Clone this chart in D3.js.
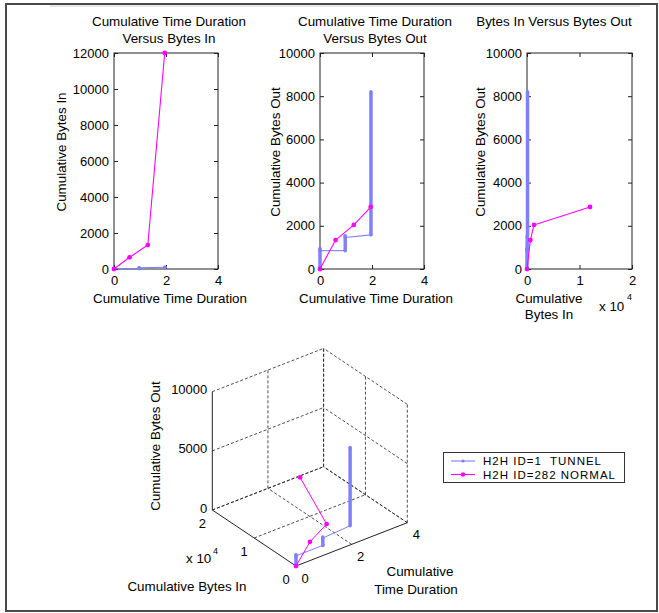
<!DOCTYPE html>
<html>
<head>
<meta charset="utf-8">
<script src="https://cdn.jsdelivr.net/npm/d3@7"></script>
<style>
  body { margin: 0; background: #fff; }
  svg { font-family: 'Liberation Sans', Arial, sans-serif; }
</style>
</head>
<body>
<div id="chart"></div>
<script>
// Data
const seriesNames = ['H2H ID=1  TUNNEL', 'H2H ID=282 NORMAL'];
const seriesColors = ['#8080ff', '#ff00ff'];

// H2H ID=1 TUNNEL
const tunnelTime = [0, 0, 0, 0.97, 0.97, 0.97, 1.96, 1.96];
const tunnelBytesIn = [0, 0, 20, 20, 60, 60, 100, 100];
const tunnelBytesOut = [0, 950, 850, 850, 1540, 1460, 1580, 8200];

// H2H ID=282 NORMAL
const normalTime = [0, 0.6, 1.3, 1.95];
const normalBytesIn = [0, 650, 1330, 12000];
const normalBytesOut = [0, 1340, 2040, 2870];

// Tick values
const timeTicks = [0, 2, 4];
const bytesInTicks2d = [0, 2000, 4000, 6000, 8000, 10000, 12000];
const bytesOutTicks2d = [0, 2000, 4000, 6000, 8000, 10000];
const bytesInTicksE4 = [0, 10000, 20000];
const bytesOutTicks3d = [0, 5000, 10000];

const tunnel = tunnelTime.map((t, i) => ({ t: t, bin: tunnelBytesIn[i], bout: tunnelBytesOut[i] }));
const normal = normalTime.map((t, i) => ({ t: t, bin: normalBytesIn[i], bout: normalBytesOut[i] }));
const series = [tunnel, normal];

const labelSize = '13.4px';
const tickSize = 13;

const svg = d3
  .select('#chart')
  .append('svg')
  .attr('width', 659)
  .attr('height', 613);

// Outer frame
svg.append('rect')
  .attr('x', 6).attr('y', 4)
  .attr('width', 651).attr('height', 607)
  .attr('fill', '#fff')
  .attr('stroke', '#4a4a4a')
  .attr('stroke-width', 2);
svg.append('line')
  .attr('x1', 50).attr('x2', 640).attr('y1', 6).attr('y2', 6)
  .attr('stroke', '#d0d0d0').attr('stroke-width', 1);

// Draw a line series; dense vertical runs of the tunnel series look thick
function drawSeries(g, pts, color, fx, fy, thin, dot) {
  for (let i = 1; i < pts.length; i++) {
    const x1 = fx(pts[i - 1]), y1 = fy(pts[i - 1]);
    const x2 = fx(pts[i]), y2 = fy(pts[i]);
    const vertical = Math.abs(x2 - x1) < 2 && Math.abs(y2 - y1) > 3;
    g.append('line')
      .attr('x1', x1).attr('y1', y1).attr('x2', x2).attr('y2', y2)
      .attr('stroke', color)
      .attr('stroke-width', vertical && color === seriesColors[0] ? 3.5 : thin);
  }
  g.selectAll(null)
    .data(pts)
    .enter()
    .append('circle')
    .attr('cx', fx)
    .attr('cy', fy)
    .attr('r', dot)
    .attr('fill', color);
}

// 2D panels
function panel(cfg) {
  const x = d3.scaleLinear().domain(cfg.xDomain).range([cfg.left, cfg.right]);
  const y = d3.scaleLinear().domain(cfg.yDomain).range([269, 53]);
  const g = svg.append('g');

  g.append('rect')
    .attr('x', cfg.left).attr('y', 53)
    .attr('width', cfg.right - cfg.left).attr('height', 216)
    .attr('fill', '#fff')
    .attr('stroke', '#222')
    .attr('stroke-width', 1);

  const fmtX = cfg.xFormat || d3.format('d');

  const xAxis = g.append('g')
    .attr('transform', 'translate(0,269)')
    .call(d3.axisBottom(x).tickValues(cfg.xTicks).tickSizeInner(-4).tickSizeOuter(0).tickPadding(7).tickFormat(fmtX));
  const xTop = g.append('g')
    .attr('transform', 'translate(0,53)')
    .call(d3.axisTop(x).tickValues(cfg.xTicks).tickSizeInner(-4).tickSizeOuter(0).tickFormat(''));
  const yAxis = g.append('g')
    .attr('transform', 'translate(' + cfg.left + ',0)')
    .call(d3.axisLeft(y).tickValues(cfg.yTicks).tickSizeInner(-4).tickSizeOuter(0).tickPadding(5).tickFormat(d3.format('d')));
  const yRight = g.append('g')
    .attr('transform', 'translate(' + cfg.right + ',0)')
    .call(d3.axisRight(y).tickValues(cfg.yTicks).tickSizeInner(-4).tickSizeOuter(0).tickFormat(''));

  [xAxis, xTop, yAxis, yRight].forEach((a) => {
    a.select('.domain').remove();
    a.selectAll('line').attr('stroke', '#222');
    a.selectAll('text')
      .attr('font-size', tickSize)
      .attr('font-family', "'Liberation Sans', Arial, sans-serif")
      .attr('fill', '#000');
  });

  const plot = g.append('g');
  series.forEach((s, i) => {
    drawSeries(plot, s, seriesColors[i], (d) => x(d[cfg.xKey]), (d) => y(d[cfg.yKey]), 1.1, i === 0 ? 1.8 : 2.4);
  });

  // Titles and labels
  cfg.title.forEach((line, i) => {
    g.append('text')
      .attr('x', cfg.titleX)
      .attr('y', 26 + i * 17)
      .attr('text-anchor', 'middle')
      .style('font-size', labelSize)
      .text(line);
  });
  cfg.xLabel.forEach((line, i) => {
    g.append('text')
      .attr('x', cfg.xLabelX)
      .attr('y', 303 + i * 16)
      .attr('text-anchor', 'middle')
      .style('font-size', labelSize)
      .text(line);
  });
  g.append('text')
    .attr('transform', 'translate(' + cfg.yLabelX + ',152) rotate(-90)')
    .attr('text-anchor', 'middle')
    .attr('dominant-baseline', 'central')
    .style('font-size', labelSize)
    .text(cfg.yLabel);
}

panel({
  left: 114, right: 218,
  xDomain: [0, 4], yDomain: [0, 12000],
  xTicks: timeTicks, yTicks: bytesInTicks2d,
  xKey: 't', yKey: 'bin',
  title: ['Cumulative Time Duration', 'Versus Bytes In'], titleX: 169,
  xLabel: ['Cumulative Time Duration'], xLabelX: 170,
  yLabel: 'Cumulative Bytes In', yLabelX: 61,
});

panel({
  left: 320, right: 424,
  xDomain: [0, 4], yDomain: [0, 10000],
  xTicks: timeTicks, yTicks: bytesOutTicks2d,
  xKey: 't', yKey: 'bout',
  title: ['Cumulative Time Duration', 'Versus Bytes Out'], titleX: 375,
  xLabel: ['Cumulative Time Duration'], xLabelX: 376,
  yLabel: 'Cumulative Bytes Out', yLabelX: 275,
});

panel({
  left: 527, right: 632,
  xDomain: [0, 20000], yDomain: [0, 10000],
  xTicks: bytesInTicksE4, yTicks: bytesOutTicks2d,
  xFormat: (d) => d / 10000,
  xKey: 'bin', yKey: 'bout',
  title: ['Bytes In Versus Bytes Out'], titleX: 554,
  xLabel: ['Cumulative', 'Bytes In'], xLabelX: 549,
  yLabel: 'Cumulative Bytes Out', yLabelX: 480,
});

// exponent label for panel 3
svg.append('text').attr('x', 599).attr('y', 311).style('font-size', labelSize).text('x 10');
svg.append('text').attr('x', 627).attr('y', 300).style('font-size', '9px').text('4');

// 3D panel: oblique projection built from linear scales
const ox = 296, oy = 566;
const tX = d3.scaleLinear().domain([0, 4]).range([0, 111.3]);
const tY = d3.scaleLinear().domain([0, 4]).range([0, -43.3]);
const bX = d3.scaleLinear().domain([0, 20000]).range([0, -83.7]);
const bY = d3.scaleLinear().domain([0, 20000]).range([0, -56]);
const zY = d3.scaleLinear().domain([0, 10000]).range([0, -118.3]);
const px = (t, b, z) => ox + tX(t) + bX(b);
const py = (t, b, z) => oy + tY(t) + bY(b) + zY(z);

const g3 = svg.append('g');
const tMax = 4, bMax = 20000, zMax = 10000;

function seg3(t1, b1, z1, t2, b2, z2, dashed) {
  g3.append('line')
    .attr('x1', px(t1, b1, z1)).attr('y1', py(t1, b1, z1))
    .attr('x2', px(t2, b2, z2)).attr('y2', py(t2, b2, z2))
    .attr('stroke', '#222')
    .attr('stroke-width', dashed ? 0.8 : 1)
    .attr('stroke-dasharray', dashed ? '3,2' : null);
}

// back-left wall (b = max)
timeTicks.forEach((t) => { if (t > 0) seg3(t, bMax, 0, t, bMax, zMax, true); });
bytesOutTicks3d.forEach((z) => seg3(0, bMax, z, tMax, bMax, z, true));
// back-right wall (t = max)
bytesInTicksE4.forEach((b) => seg3(tMax, b, 0, tMax, b, zMax, true));
bytesOutTicks3d.forEach((z) => seg3(tMax, 0, z, tMax, bMax, z, true));
// floor
timeTicks.forEach((t) => { if (t > 0) seg3(t, 0, 0, t, bMax, 0, true); });
bytesInTicksE4.forEach((b) => { if (b > 0) seg3(0, b, 0, tMax, b, 0, true); });
// solid axes
seg3(0, bMax, 0, 0, bMax, zMax, false);
seg3(0, 0, 0, 0, bMax, 0, false);
seg3(0, 0, 0, tMax, 0, 0, false);

// tick labels
bytesOutTicks3d.forEach((z) => {
  g3.append('text')
    .attr('x', px(0, bMax, z) - 5).attr('y', py(0, bMax, z) - 2)
    .attr('text-anchor', 'end').attr('dominant-baseline', 'central')
    .style('font-size', tickSize + 'px').text(z);
});
bytesInTicksE4.forEach((b) => {
  g3.append('text')
    .attr('x', px(0, b, 0) - 10).attr('y', py(0, b, 0) + 13)
    .attr('text-anchor', 'middle').attr('dominant-baseline', 'central')
    .style('font-size', tickSize + 'px').text(b / 10000);
});
timeTicks.forEach((t) => {
  g3.append('text')
    .attr('x', px(t, 0, 0) + 9).attr('y', py(t, 0, 0) + 12)
    .attr('text-anchor', 'middle').attr('dominant-baseline', 'central')
    .style('font-size', tickSize + 'px').text(t);
});

// data in 3D
series.forEach((s, i) => {
  drawSeries(g3, s, seriesColors[i], (d) => px(d.t, d.bin, d.bout), (d) => py(d.t, d.bin, d.bout), 1, i === 0 ? 1.8 : 2.4);
});

// 3D labels
g3.append('text').attr('x', 186).attr('y', 563).style('font-size', labelSize).text('x 10');
g3.append('text').attr('x', 213).attr('y', 554).style('font-size', '9px').text('4');
g3.append('text').attr('x', 187).attr('y', 591).attr('text-anchor', 'middle')
  .style('font-size', labelSize).text('Cumulative Bytes In');
g3.append('text').attr('x', 420).attr('y', 576).attr('text-anchor', 'middle')
  .style('font-size', labelSize).text('Cumulative');
g3.append('text').attr('x', 416).attr('y', 594).attr('text-anchor', 'middle')
  .style('font-size', labelSize).text('Time Duration');
g3.append('text')
  .attr('transform', 'translate(155,446) rotate(-90)')
  .attr('text-anchor', 'middle').attr('dominant-baseline', 'central')
  .style('font-size', labelSize).text('Cumulative Bytes Out');

// Legend
const leg = svg.append('g');
leg.append('rect')
  .attr('x', 443.5).attr('y', 452.5)
  .attr('width', 181).attr('height', 30)
  .attr('fill', '#fff').attr('stroke', '#333');
seriesNames.forEach((name, i) => {
  const yy = 461 + i * 13.5;
  leg.append('line')
    .attr('x1', 451).attr('x2', 475).attr('y1', yy).attr('y2', yy)
    .attr('stroke', seriesColors[i]).attr('stroke-width', 1.1);
  leg.append('circle').attr('cx', 463).attr('cy', yy).attr('r', i === 0 ? 1.6 : 2.2).attr('fill', seriesColors[i]);
  leg.append('text')
    .attr('x', 483).attr('y', yy)
    .attr('dominant-baseline', 'central')
    .attr('xml:space', 'preserve')
    .style('white-space', 'pre')
    .style('font-size', '11.5px')
    .style('letter-spacing', '1px')
    .text(name);
});
</script>
</body>
</html>
